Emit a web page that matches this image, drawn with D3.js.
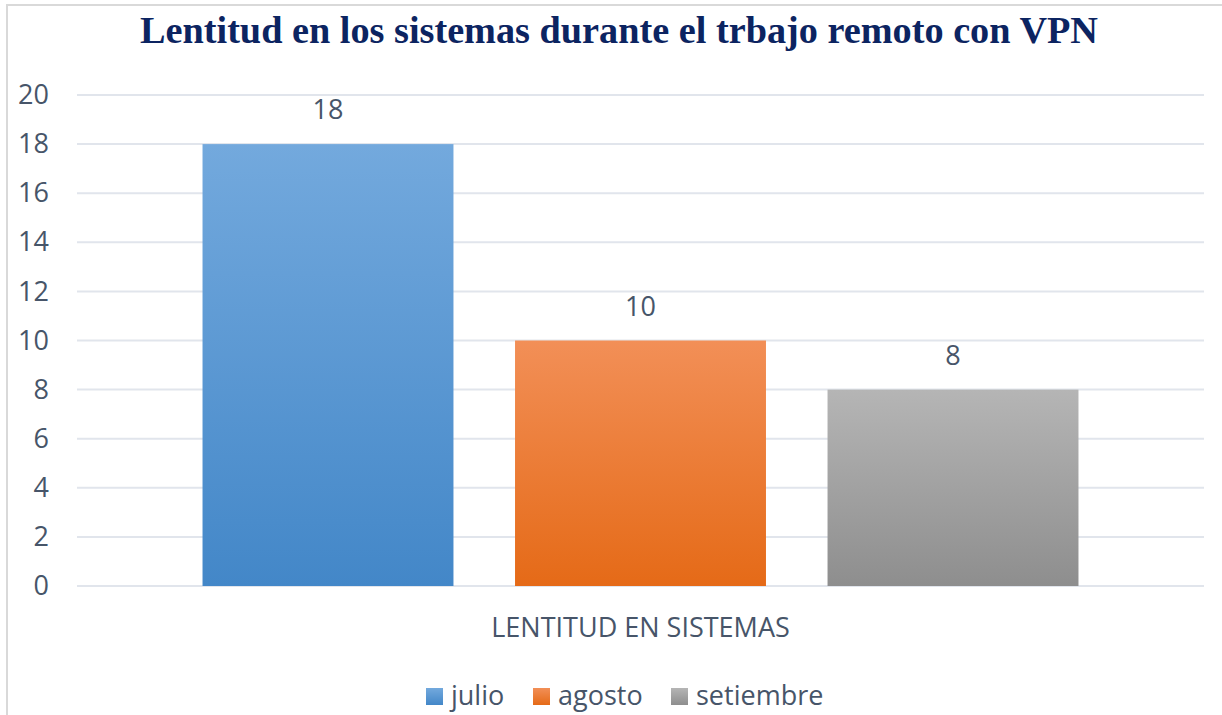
<!DOCTYPE html>
<html>
<head>
<meta charset="utf-8">
<script src="https://cdn.jsdelivr.net/npm/d3@7"></script>
<style>
  html, body { margin: 0; padding: 0; background: #ffffff; }
  svg { display: block; }
</style>
</head>
<body>
<svg id="chart" width="1222" height="715"></svg>
<script>
// Chart data
const titleText = "Lentitud en los sistemas durante el trbajo remoto con VPN";
const category = "LENTITUD EN SISTEMAS";
const months = ["julio", "agosto", "setiembre"];
const values = [18, 10, 8];
const yTicks = [0, 2, 4, 6, 8, 10, 12, 14, 16, 18, 20];

const palette = {
  julio:     ["#73a9dd", "#4387c8"],
  agosto:    ["#f28f57", "#e56a17"],
  setiembre: ["#b5b5b5", "#8e8e8e"]
};

const textColor = "#475569";
const gridColor = "#e1e5ec";
const uiFont = "'Open Sans', Lato, sans-serif";

const svg = d3.select("#chart");
const W = 1222, H = 715;

// Outer frame (top and left edges of the chart area)
svg.append("line").attr("x1", 6).attr("x2", W).attr("y1", 5).attr("y2", 5)
  .attr("stroke", "#d9d9d9").attr("stroke-width", 2);
svg.append("line").attr("x1", 7).attr("x2", 7).attr("y1", 4).attr("y2", H)
  .attr("stroke", "#d9d9d9").attr("stroke-width", 2);

// Gradients for the bars
const defs = svg.append("defs");
months.forEach(m => {
  const g = defs.append("linearGradient").attr("id", "grad-" + m)
    .attr("x1", 0).attr("y1", 0).attr("x2", 0).attr("y2", 1);
  g.append("stop").attr("offset", "0%").attr("stop-color", palette[m][0]);
  g.append("stop").attr("offset", "100%").attr("stop-color", palette[m][1]);
});

// Plot area
const plot = { left: 77, right: 1204, top: 95, bottom: 586 };

const y = d3.scaleLinear().domain([0, 20]).range([plot.bottom, plot.top]);
const x0 = d3.scaleBand().domain([category]).range([plot.left, plot.right]).paddingInner(0).paddingOuter(0.1433);
const x1 = d3.scaleBand().domain(months).range([0, x0.bandwidth()]).paddingInner(0.197).paddingOuter(0);

// Gridlines
svg.append("g")
  .selectAll("line")
  .data(yTicks)
  .join("line")
  .attr("x1", plot.left).attr("x2", plot.right)
  .attr("y1", d => y(d)).attr("y2", d => y(d))
  .attr("stroke", gridColor).attr("stroke-width", 2);

// Y axis labels
const yAxis = d3.axisLeft(y).tickValues(yTicks).tickSize(0).tickPadding(0);
const yg = svg.append("g").attr("transform", `translate(49,0)`).call(yAxis);
yg.select(".domain").remove();
yg.selectAll("text")
  .attr("fill", textColor)
  .style("font-family", uiFont)
  .style("font-size", "27px");

// Bars
const group = svg.append("g").attr("transform", `translate(${x0(category)},0)`);
group.selectAll("rect")
  .data(months.map((m, i) => ({ m, v: values[i] })))
  .join("rect")
  .attr("x", d => x1(d.m))
  .attr("y", d => y(d.v))
  .attr("width", x1.bandwidth())
  .attr("height", d => y(0) - y(d.v))
  .attr("fill", d => `url(#grad-${d.m})`);

// Value labels
group.selectAll("text.value")
  .data(months.map((m, i) => ({ m, v: values[i] })))
  .join("text")
  .attr("class", "value")
  .attr("x", d => x1(d.m) + x1.bandwidth() / 2)
  .attr("y", d => y(d.v) - 25)
  .attr("text-anchor", "middle")
  .attr("fill", textColor)
  .style("font-family", uiFont)
  .style("font-size", "27px")
  .text(d => d.v);

// Category label
svg.append("text")
  .attr("x", x0(category) + x0.bandwidth() / 2)
  .attr("y", 637)
  .attr("text-anchor", "middle")
  .attr("fill", textColor)
  .style("font-family", uiFont)
  .style("font-size", "27px")
  .text(category);

// Title
svg.append("text")
  .attr("x", 140)
  .attr("y", 43)
  .attr("textLength", 958)
  .attr("lengthAdjust", "spacingAndGlyphs")
  .attr("fill", "#0c2461")
  .style("font-family", "'Liberation Serif', 'Times New Roman', serif")
  .style("font-weight", "bold")
  .style("font-size", "38px")
  .text(titleText);

// Legend
const legendX = [426, 533, 671];
const legend = svg.append("g");
months.forEach((m, i) => {
  legend.append("rect")
    .attr("x", legendX[i]).attr("y", 688)
    .attr("width", 17).attr("height", 17)
    .attr("fill", `url(#grad-${m})`);
  legend.append("text")
    .attr("x", legendX[i] + 25).attr("y", 705)
    .attr("fill", textColor)
    .style("font-family", uiFont)
    .style("font-size", "27px")
    .text(m);
});
</script>
</body>
</html>
